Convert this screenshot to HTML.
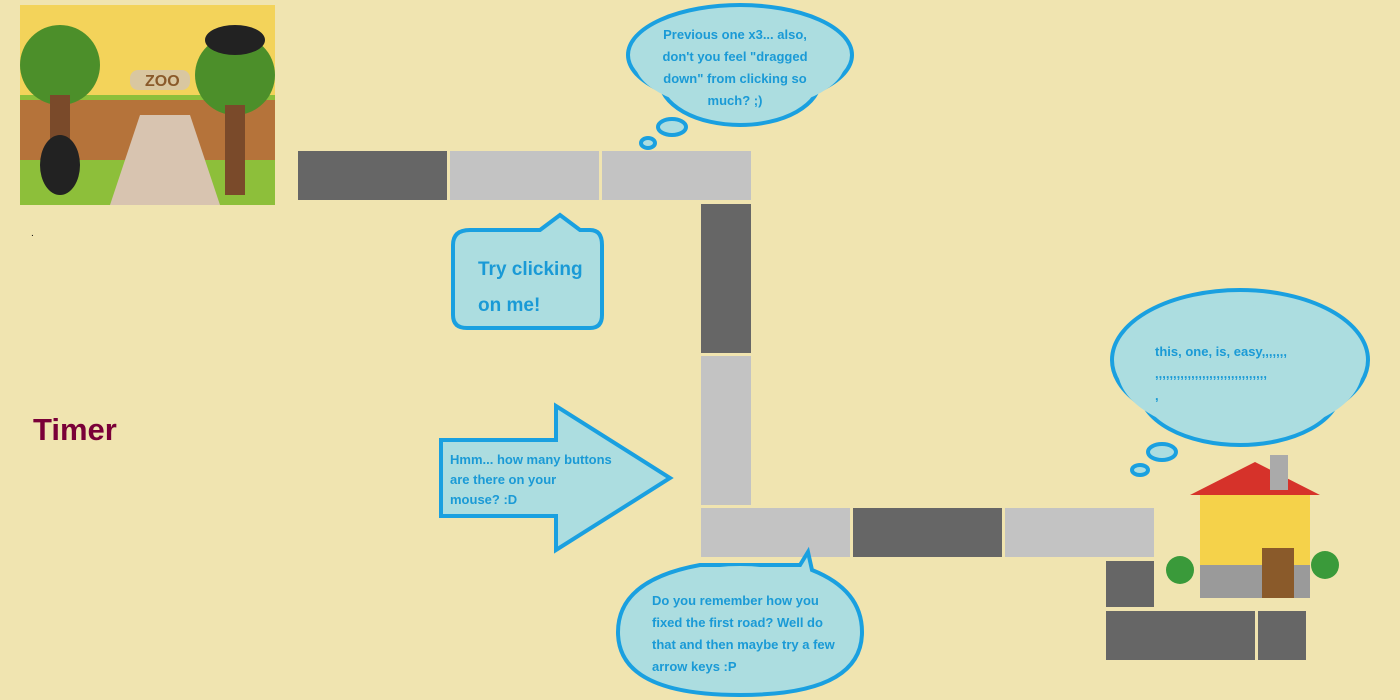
<!DOCTYPE html>
<html><head><style>
body{margin:0;width:1400px;height:700px;background:#f0e4b0;position:relative;overflow:hidden;font-family:"Liberation Sans",sans-serif}
.t{position:absolute}
.d{background:#666}
.l{background:#c3c3c3}
.txt{position:absolute;color:#1a9ad6;font-family:"Comic Sans MS","Liberation Sans",sans-serif;font-weight:bold}
</style></head><body>
<svg class="t" style="left:20px;top:5px" width="255" height="200">
<rect width="255" height="200" fill="#8dbf3a"/>
<rect width="255" height="90" fill="#f3d35a"/>
<rect x="0" y="95" width="255" height="60" fill="#b5733a"/>
<path d="M90 200 L120 110 L170 110 L200 200Z" fill="#d8c4b0"/>
<rect x="110" y="65" width="60" height="20" rx="8" fill="#d9c7a0"/>
<text x="125" y="81" font-size="16" font-weight="bold" fill="#8a5a2a">ZOO</text>
<circle cx="40" cy="60" r="40" fill="#4c8f2a"/><circle cx="215" cy="70" r="40" fill="#4c8f2a"/>
<rect x="30" y="90" width="20" height="90" fill="#7a4a2a"/><rect x="205" y="100" width="20" height="90" fill="#7a4a2a"/>
<ellipse cx="40" cy="160" rx="20" ry="30" fill="#222"/><ellipse cx="215" cy="35" rx="30" ry="15" fill="#222"/>
</svg>
<div class="t" style="left:31px;top:228px;font-size:10px">.</div>
<div class="t" style="left:33px;top:412px;font-size:31px;font-weight:bold;color:#7a0038">Timer</div>

<div class="t d" style="left:298px;top:151px;width:149px;height:49px"></div>
<div class="t l" style="left:450px;top:151px;width:149px;height:49px"></div>
<div class="t l" style="left:602px;top:151px;width:149px;height:49px"></div>
<div class="t d" style="left:701px;top:204px;width:50px;height:149px"></div>
<div class="t l" style="left:701px;top:356px;width:50px;height:149px"></div>
<div class="t l" style="left:701px;top:508px;width:149px;height:49px"></div>
<div class="t d" style="left:853px;top:508px;width:149px;height:49px"></div>
<div class="t l" style="left:1005px;top:508px;width:149px;height:49px"></div>
<div class="t d" style="left:1106px;top:561px;width:48px;height:46px"></div>
<div class="t d" style="left:1106px;top:611px;width:149px;height:49px"></div>
<div class="t d" style="left:1258px;top:611px;width:48px;height:49px"></div>

<svg class="t" style="left:0;top:0" width="1400" height="700">
<g fill="#acdde0" stroke="#1aa0e0" stroke-width="4">
<path d="M470 230 H540 L560 215 L580 230 H590 Q602 230 602 245 V315 Q602 328 590 328 H467 Q453 328 453 315 V245 Q453 230 470 230Z"/>
<path d="M441 440 H556 V406 L670 478 L556 550 V516 H441Z"/>
<ellipse cx="740" cy="55" rx="112" ry="50"/>
<ellipse cx="740" cy="80" rx="80" ry="45"/>
<ellipse cx="672" cy="127" rx="14" ry="8"/><ellipse cx="648" cy="143" rx="7" ry="5"/>
<path d="M700 565 L800 565 L808 552 L812 570 Q862 590 862 632 Q862 695 740 695 Q618 695 618 632 Q618 580 700 565Z"/>
<ellipse cx="1240" cy="360" rx="128" ry="70"/>
<ellipse cx="1240" cy="390" rx="100" ry="55"/>
<ellipse cx="1162" cy="452" rx="14" ry="8"/><ellipse cx="1140" cy="470" rx="8" ry="5"/>
</g>
<g fill="#acdde0"><ellipse cx="740" cy="62" rx="105" ry="48"/><ellipse cx="1240" cy="370" rx="122" ry="65"/><ellipse cx="740" cy="628" rx="118" ry="62"/></g>
<rect x="1200" y="490" width="110" height="105" fill="#f5d24a"/>
<path d="M1190 495 L1255 462 L1320 495Z" fill="#d6322a"/>
<rect x="1270" y="455" width="18" height="35" fill="#aaa"/>
<rect x="1200" y="565" width="110" height="33" fill="#9a9a9a"/>
<rect x="1262" y="548" width="32" height="50" fill="#8a5a2a"/>
<circle cx="1180" cy="570" r="14" fill="#3a9a3a"/><circle cx="1325" cy="565" r="14" fill="#3a9a3a"/>
</svg>

<div class="txt" style="left:478px;top:252px;font-size:19px;line-height:36px">Try clicking<br>on me!</div>
<div class="txt" style="left:450px;top:450px;font-size:13px;line-height:20px">Hmm... how many buttons<br>are there on your<br>mouse? :D</div>
<div class="txt" style="left:660px;top:24px;font-size:13px;line-height:22px;text-align:center;width:150px">Previous one x3... also, don't you feel "dragged down" from clicking so much? ;)</div>
<div class="txt" style="left:652px;top:590px;font-size:13px;line-height:22px">Do you remember how you<br>fixed the first road? Well do<br>that and then maybe try a few<br>arrow keys :P</div>
<div class="txt" style="left:1155px;top:341px;font-size:13px;line-height:22px">this, one, is, easy,,,,,,,<br>,,,,,,,,,,,,,,,,,,,,,,,,,,,,,,,<br>,</div>
</body></html>
